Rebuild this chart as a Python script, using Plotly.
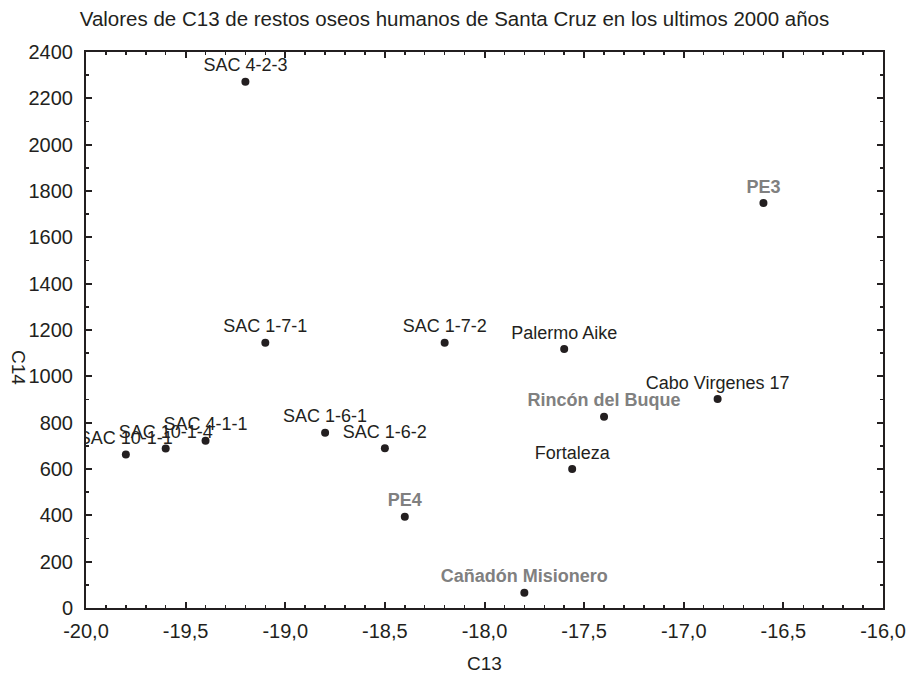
import plotly.graph_objects as go

labels = ["SAC 10-1-1", "SAC 10-1-4", "SAC 4-1-1", "SAC 4-2-3", "SAC 1-7-1",
          "SAC 1-6-1", "SAC 1-6-2", "SAC 1-7-2", "PE4", "Cañadón Misionero",
          "Palermo Aike", "Fortaleza", "Rincón del Buque", "Cabo Virgenes 17", "PE3"]
c13 = [-19.8, -19.6, -19.4, -19.2, -19.1, -18.8, -18.5, -18.2, -18.4, -17.8,
       -17.6, -17.56, -17.4, -16.83, -16.6]
c14 = [663, 688, 722, 2272, 1145, 757, 690, 1145, 394, 66,
       1118, 600, 826, 902, 1748]
highlight = [False, False, False, False, False, False, False, False, True, True,
             False, False, True, False, True]

x_tick_vals = [-20.0, -19.5, -19.0, -18.5, -18.0, -17.5, -17.0, -16.5, -16.0]
x_tick_text = ["-20,0", "-19,5", "-19,0", "-18,5", "-18,0", "-17,5", "-17,0", "-16,5", "-16,0"]
y_tick_vals = [0, 200, 400, 600, 800, 1000, 1200, 1400, 1600, 1800, 2000, 2200, 2400]
y_tick_text = [str(v) for v in y_tick_vals]

title = "Valores de C13 de restos oseos humanos de Santa Cruz en los ultimos 2000 años"

INK = "#231f20"
FONT = "Liberation Sans, Arial, sans-serif"

disp_text = [f"<b>{t}</b>" if h else t for t, h in zip(labels, highlight)]
text_colors = ["#808080" if h else INK for h in highlight]

fig = go.Figure()
fig.add_trace(go.Scatter(
    x=c13, y=c14, mode="markers+text",
    text=disp_text, textposition="top center",
    textfont=dict(family=FONT, size=18, color=text_colors),
    marker=dict(color=INK, size=8),
    cliponaxis=True,
    showlegend=False, hoverinfo="skip",
))

axis_common = dict(
    showgrid=False, zeroline=False, showline=True, linecolor=INK, linewidth=2,
    mirror="ticks", ticks="inside", ticklen=6, tickwidth=2, tickcolor=INK,
    tickfont=dict(family=FONT, size=20, color=INK), automargin=False,
)

fig.update_xaxes(range=[-20, -16], tickvals=x_tick_vals, ticktext=x_tick_text,
                 ticklabelstandoff=4,
                 minor=dict(dtick=0.1, ticks="inside", ticklen=3, tickwidth=1.5, tickcolor=INK),
                 **axis_common)
fig.update_yaxes(range=[0, 2400], tickvals=y_tick_vals, ticktext=y_tick_text,
                 ticklabelstandoff=7,
                 minor=dict(dtick=100, ticks="inside", ticklen=3, tickwidth=1.5, tickcolor=INK),
                 **axis_common)

fig.update_layout(
    width=909, height=676,
    margin=dict(l=86, r=26, t=52, b=68),
    paper_bgcolor="white", plot_bgcolor="white",
    font=dict(family=FONT, color=INK),
    title=dict(text=title, x=0.5, xanchor="center", yref="container", y=0.9726, yanchor="middle",
               font=dict(family=FONT, size=20.5, color=INK)),
    annotations=[
        dict(text="C13", xref="paper", yref="paper", x=0.5, y=-0.099, yanchor="middle",
             showarrow=False, font=dict(family=FONT, size=19, color=INK)),
        dict(text="C14", xref="paper", yref="paper", x=-0.0853, y=0.4335, textangle=90,
             xanchor="center", yanchor="middle",
             showarrow=False, font=dict(family=FONT, size=19, color=INK)),
    ],
)

fig.write_html("out.html",
               config={"displayModeBar": False, "staticPlot": True},
               post_script="document.body.style.margin='0px';document.body.style.overflow='hidden';")
